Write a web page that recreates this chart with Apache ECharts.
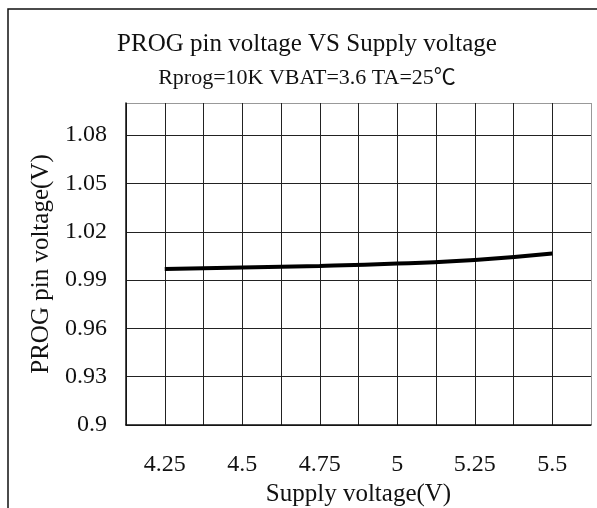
<!DOCTYPE html>
<html>
<head>
<meta charset="utf-8">
<script src="https://cdn.jsdelivr.net/npm/echarts@6/dist/echarts.min.js"></script>
<style>
html,body{margin:0;padding:0;background:#fff;}
#chart{width:597px;height:508px;}
</style>
</head>
<body>
<div id="chart"></div>
<script>
var titleLine1 = 'PROG pin voltage VS Supply voltage';
var titleLine2 = 'Rprog=10K VBAT=3.6 TA=25\u2103';
var xName = 'Supply voltage(V)';
var yName = 'PROG pin voltage(V)';
var supplyVoltage = [4.25, 4.5, 4.75, 5.0, 5.25, 5.5];
var progVoltage = [0.9969, 0.9978, 0.9988, 1.0003, 1.0025, 1.0065];

var FONT = '"Liberation Serif", "Times New Roman", "Noto Sans CJK SC", serif';
var chart = echarts.init(document.getElementById('chart'), null, {renderer: 'canvas'});
var seriesData = supplyVoltage.map(function (x, i) { return [x, progVoltage[i]]; });

function lineColors(n) {
  var arr = [];
  for (var i = 0; i < n - 1; i++) arr.push('#222');
  arr.push('#999');
  return arr;
}

chart.setOption({
  animation: false,
  backgroundColor: '#fff',
  title: [
    {text: titleLine1, left: 302, top: 27, textAlign: 'center',
     textStyle: {fontFamily: FONT, fontSize: 25, fontWeight: 'normal', color: '#111'}},
    {text: titleLine2, left: 302, top: 62, textAlign: 'center',
     textStyle: {fontFamily: FONT, fontSize: 22, fontWeight: 'normal', color: '#111'}}
  ],
  graphic: [
    {type: 'rect', shape: {x: 8, y: 9, width: 700, height: 600},
     style: {fill: 'none', stroke: '#111', lineWidth: 1.5}, silent: true}
  ],
  grid: {left: 126, right: 6, top: 103, bottom: 83, containLabel: false, outerBoundsMode: 'none'},
  xAxis: {
    type: 'value', min: 4.125, max: 5.625, interval: 0.125,
    name: xName, nameLocation: 'middle', nameGap: 56,
    nameTextStyle: {fontFamily: FONT, fontSize: 25, color: '#111'},
    axisLine: {show: true, lineStyle: {color: '#111', width: 1.5}},
    axisTick: {show: false},
    splitLine: {show: true, lineStyle: {color: lineColors(13), width: 1}},
    axisLabel: {
      fontFamily: FONT, fontSize: 24, color: '#111', margin: 28,
      formatter: function (v) {
        var q = v * 4;
        if (Math.abs(q - Math.round(q)) > 1e-6) return '';
        return String(+v.toFixed(2));
      }
    }
  },
  yAxis: {
    type: 'value', min: 0.9, max: 1.1, interval: 0.03,
    name: yName, nameLocation: 'middle', nameGap: 67,
    nameTextStyle: {fontFamily: FONT, fontSize: 25, color: '#111'},
    axisLine: {show: true, lineStyle: {color: '#111', width: 1.5}},
    axisTick: {show: false},
    splitLine: {show: true, lineStyle: {color: lineColors(8), width: 1}},
    axisLabel: {
      fontFamily: FONT, fontSize: 24, color: '#111', margin: 19,
      formatter: function (v) {
        if (v > 1.095) return '';
        return String(+v.toFixed(2));
      }
    }
  },
  series: [{
    type: 'line', data: seriesData, smooth: true, showSymbol: false,
    lineStyle: {color: '#000', width: 4}
  }]
});
</script>
</body>
</html>
